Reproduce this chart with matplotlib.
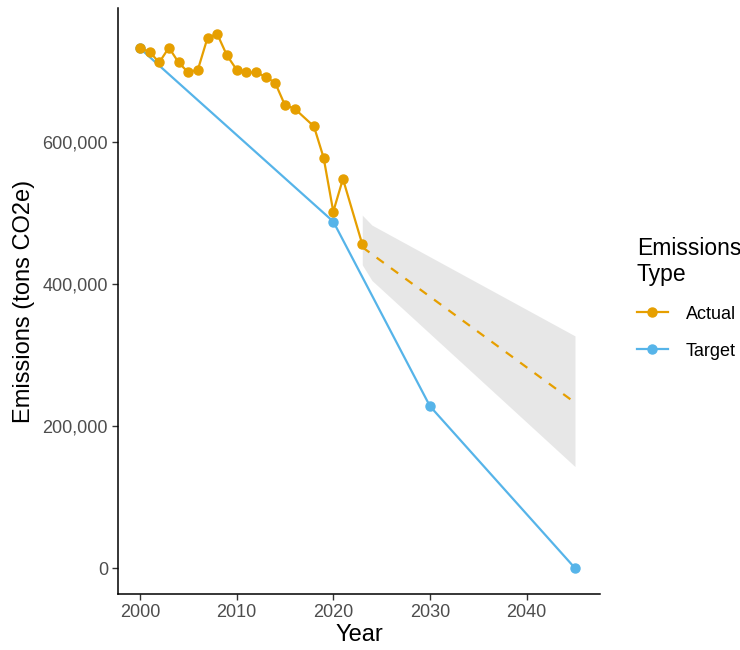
import numpy as np
import matplotlib.pyplot as plt
from matplotlib.ticker import FuncFormatter
from matplotlib.lines import Line2D

plt.rcParams['font.family'] = ['Liberation Sans', 'DejaVu Sans']

# actual emissions (2017 and 2022 missing)
actual_years = [2000, 2001, 2002, 2003, 2004, 2005, 2006, 2007, 2008, 2009, 2010,
                2011, 2012, 2013, 2014, 2015, 2016, 2018, 2019, 2020, 2021, 2023]
actual_vals = [732000, 727000, 712000, 733000, 712000, 698000, 702000, 747000, 752000,
               722000, 702000, 698000, 698000, 692000, 683000, 652000, 647000, 622000,
               578000, 502000, 548000, 456000]

target_years = [2000, 2020, 2030, 2045]
target_vals = [732000, 488000, 228000, 0]

# projected trend with band
trend_years = [2023, 2024, 2045]
trend_vals = [452000, 442000, 233000]
trend_upper = [497000, 483000, 327000]
trend_lower = [427000, 405000, 143000]

orange = '#E69F00'
blue = '#56B4E9'

fig = plt.figure(figsize=(7.4, 6.5), dpi=100)
ax = fig.add_axes([0.159, 0.086, 0.652, 0.902])

ax.fill_between(trend_years, trend_lower, trend_upper, color='#E5E5E5', alpha=0.9, lw=0, zorder=1)
ax.plot(trend_years, trend_vals, color=orange, ls=(0, (4, 4)), lw=1.6, zorder=2)
ax.plot(target_years, target_vals, color=blue, lw=1.6, marker='o', ms=6.5, zorder=3)
ax.plot(actual_years, actual_vals, color=orange, lw=1.6, marker='o', ms=6.5, zorder=4)

ax.set_xlim(1997.7, 2047.6)
ax.set_ylim(-36600, 789000)
ax.set_xticks([2000, 2010, 2020, 2030, 2040])
ax.set_yticks([0, 200000, 400000, 600000])
ax.yaxis.set_major_formatter(FuncFormatter(lambda v, p: f'{int(v):,}'))

for s in ['top', 'right']:
    ax.spines[s].set_visible(False)
for s in ['left', 'bottom']:
    ax.spines[s].set_linewidth(1.1)
    ax.spines[s].set_color('black')
ax.tick_params(length=4, width=1, color='#333333', labelsize=13, labelcolor='#4D4D4D', pad=3)

ax.set_xlabel('Year', fontsize=17, labelpad=2)
ax.set_ylabel('Emissions (tons CO2e)', fontsize=17, labelpad=5)

handles = [Line2D([0], [0], color=orange, lw=1.6, marker='o', ms=6.5),
           Line2D([0], [0], color=blue, lw=1.6, marker='o', ms=6.5)]
leg = fig.legend(handles, ['Actual', 'Target'], title='Emissions\nType',
                 loc='upper left', bbox_to_anchor=(0.851, 0.647), frameon=False,
                 fontsize=13, title_fontsize=16.5, handlelength=1.7, labelspacing=1.1,
                 handletextpad=1.0, borderaxespad=0)
leg._legend_box.align = 'left'
leg._legend_box.sep = 14

fig.savefig('out.png', dpi=100)
